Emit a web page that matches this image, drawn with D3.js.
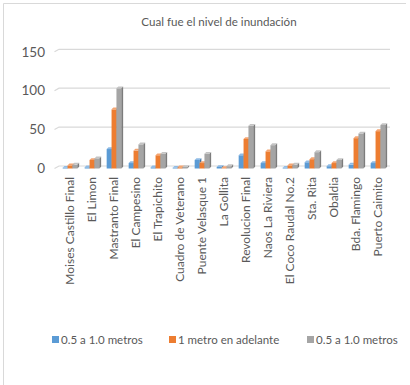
<!DOCTYPE html>
<html>
<head>
<meta charset="utf-8">
<script src="https://cdn.jsdelivr.net/npm/d3@7"></script>
<style>
  body { margin: 0; background: #fff; }
  svg { display: block; font-family: Lato, "Liberation Sans", sans-serif; }
</style>
</head>
<body>
<div id="chart"></div>
<script>
// data
const categories = ['Moises Castillo Final', 'El Limon', 'Mastranto Final', 'El Campesino', 'El Trapichito',
  'Cuadro de Veterano', 'Puente Velasque 1', 'La Gollita', 'Revolucion Final', 'Naos La Riviera',
  'El Coco Raudal No.2', 'Sta. Rita', 'Obaldia', 'Bda. Flamingo', 'Puerto Caimito'];
const seriesNames = ['0.5 a 1.0 metros', '1 metro en adelante', '0.5 a 1.0 metros'];
const blueValues = [1, 1.5, 25, 7, 1.5, 1, 11, 2, 17, 7, 1, 8, 3, 5, 7];
const orangeValues = [4, 11, 76, 23, 17, 1.5, 7, 0.5, 38, 22, 4, 12, 7, 39, 48];
const grayValues = [5, 13, 103, 31, 19, 2, 19, 3, 55, 30, 5, 21, 11, 45, 56];
const yTicks = [0, 50, 100, 150];

const W = 410, H = 385;
const faceColors = ['#5b9bd5', '#ed7d31', '#a5a5a5'];
const sideColors = ['#41719c', '#ae5a21', '#7c7c7c'];
const topColors = ['#8fbbe5', '#f4a572', '#c4c4c4'];

const svg = d3.select('#chart').append('svg')
  .attr('width', W)
  .attr('height', H);

// frame lines (only left and top show in the picture)
svg.append('path')
  .attr('d', 'M3.5,385 V3.5 H406')
  .attr('fill', 'none')
  .attr('stroke', '#d9d9d9');

svg.append('text')
  .attr('x', 219)
  .attr('y', 26)
  .attr('text-anchor', 'middle')
  .attr('font-size', 11.6)
  .attr('fill', '#595959')
  .text('Cual fue el nivel de inundación');

// 3d depth offsets
const DX = 4.5, DY = 2.5;
const y = d3.scaleLinear().domain([0, 150]).range([166, 49.3]);
const x = d3.scaleBand().domain(categories).range([59, 389]);
const xs = d3.scaleBand().domain([0, 1, 2]).range([0, x.bandwidth()]).paddingOuter(0.75);

// gridlines with slanted floor edge
const grid = svg.append('g');
yTicks.forEach(t => {
  grid.append('path')
    .attr('d', `M${59 - DX},${y(t) + DY} L59,${y(t)} H390`)
    .attr('fill', 'none')
    .attr('stroke', '#d9d9d9')
    .attr('stroke-width', 1.2);
  grid.append('text')
    .attr('x', 45)
    .attr('y', y(t) + DY)
    .attr('dy', '0.35em')
    .attr('text-anchor', 'end')
    .attr('font-size', 13.5)
    .attr('fill', '#595959')
    .text(t);
});

// bars
const allValues = [blueValues, orangeValues, grayValues];
const bw = xs.bandwidth();
const bd = 1.8;
categories.forEach((c, i) => {
  allValues.forEach((vals, s) => {
    const x0 = x(c) + xs(s);
    const yTop = y(vals[i]) + DY;
    const yBase = y(0) + DY;
    const g = svg.append('g');
    g.append('rect')
      .attr('x', x0).attr('y', yTop)
      .attr('width', bw).attr('height', yBase - yTop)
      .attr('fill', faceColors[s]);
    g.append('path')
      .attr('d', `M${x0 + bw},${yTop} l${bd},${-bd} V${yBase - bd} l${-bd},${bd} Z`)
      .attr('fill', sideColors[s]);
    g.append('path')
      .attr('d', `M${x0},${yTop} l${bd},${-bd} h${bw} l${-bd},${bd} Z`)
      .attr('fill', topColors[s]);
  });
});

// category labels, rotated
svg.append('g').selectAll('text')
  .data(categories)
  .enter()
  .append('text')
  .attr('transform', d => `translate(${x(d) + x.bandwidth() / 2 + 4},177) rotate(-90)`)
  .attr('text-anchor', 'end')
  .attr('font-size', 12)
  .attr('fill', '#595959')
  .text(d => d);

// legend
const legendX = [52, 169, 307];
const legend = svg.append('g');
seriesNames.forEach((name, i) => {
  legend.append('rect')
    .attr('x', legendX[i]).attr('y', 336)
    .attr('width', 7).attr('height', 7)
    .attr('fill', faceColors[i]);
  legend.append('text')
    .attr('x', legendX[i] + 9)
    .attr('y', 339.5)
    .attr('dy', '0.35em')
    .attr('font-size', 11.5)
    .attr('fill', '#595959')
    .text(name);
});
</script>
</body>
</html>
